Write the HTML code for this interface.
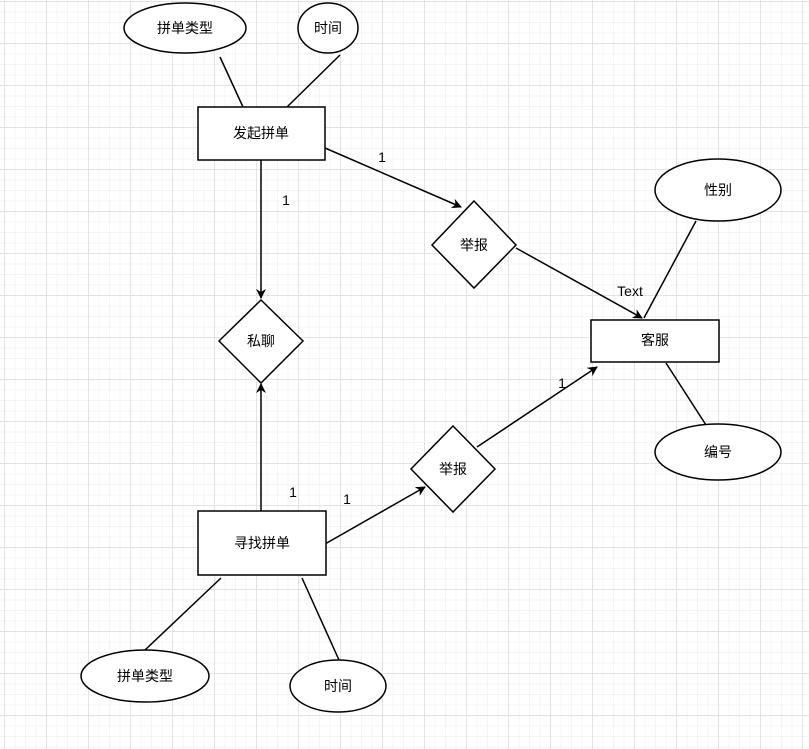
<!DOCTYPE html>
<html><head><meta charset="utf-8"><style>
html,body{margin:0;padding:0;background:#fff;}
body{width:809px;height:749px;overflow:hidden;
background-image:linear-gradient(#e3e3e3 1px,transparent 1px),linear-gradient(90deg,#e3e3e3 1px,transparent 1px),linear-gradient(#f4f4f4 1px,transparent 1px),linear-gradient(90deg,#f4f4f4 1px,transparent 1px);
background-size:42px 42px,42px 42px,10.5px 10.5px,10.5px 10.5px;
background-position:4px 1px,4px 1px,4px 1px,4px 1px;}
svg{position:absolute;left:0;top:0;}
text{font-family:"Liberation Sans","Noto Sans CJK SC",sans-serif;font-size:14px;fill:#000;}
</style></head><body>
<svg width="809" height="749" viewBox="0 0 809 749">
<defs><marker id="a" markerWidth="10" markerHeight="10" refX="9" refY="5" orient="auto" markerUnits="userSpaceOnUse"><path d="M0,0 L10,5 L0,10 L3,5 Z" fill="#000"/></marker></defs>
<g stroke="#000" stroke-width="1.5" fill="#fff">
<line x1="220" y1="57" x2="243" y2="107"/>
<line x1="340" y1="55" x2="287" y2="107"/>
<line x1="325" y1="148" x2="461" y2="207" marker-end="url(#a)"/>
<line x1="516" y1="248" x2="642" y2="318" marker-end="url(#a)"/>
<line x1="696" y1="221" x2="644" y2="318"/>
<line x1="666" y1="363" x2="706" y2="425"/>
<line x1="261" y1="160" x2="261" y2="298" marker-end="url(#a)"/>
<line x1="261" y1="511" x2="261" y2="384" marker-end="url(#a)"/>
<line x1="325" y1="544" x2="425" y2="487" marker-end="url(#a)"/>
<line x1="477" y1="447" x2="597" y2="367" marker-end="url(#a)"/>
<line x1="221" y1="578" x2="145" y2="650"/>
<line x1="302" y1="578" x2="339" y2="660"/>
<ellipse cx="185" cy="28" rx="61" ry="25"/>
<ellipse cx="328" cy="28" rx="30" ry="25"/>
<rect x="198" y="107" width="127" height="53"/>
<polygon points="474,201 516,245 474,288 432,245"/>
<rect x="591" y="320" width="128" height="42"/>
<ellipse cx="718" cy="190" rx="63" ry="31"/>
<ellipse cx="718" cy="452" rx="63" ry="28"/>
<polygon points="261,300 303,341 261,383 219,341"/>
<rect x="198" y="511" width="128" height="64"/>
<polygon points="453,426 495,469 453,512 411,469"/>
<ellipse cx="145" cy="676" rx="64" ry="26"/>
<ellipse cx="338" cy="686" rx="48" ry="26"/>
</g>
<g text-anchor="middle">
<text x="185" y="33">拼单类型</text>
<text x="328" y="33">时间</text>
<text x="261" y="138">发起拼单</text>
<text x="474" y="250">举报</text>
<text x="655" y="345">客服</text>
<text x="718" y="195">性别</text>
<text x="718" y="457">编号</text>
<text x="261" y="346">私聊</text>
<text x="262" y="548">寻找拼单</text>
<text x="453" y="474">举报</text>
<text x="145" y="681">拼单类型</text>
<text x="338" y="691">时间</text>
<text x="382" y="162" font-size="12">1</text>
<text x="286" y="205" font-size="12">1</text>
<text x="293" y="497" font-size="12">1</text>
<text x="347" y="504" font-size="12">1</text>
<text x="562" y="388" font-size="12">1</text>
<text x="630" y="296" font-size="12" fill="#333">Text</text>
</g>
</svg>
</body></html>
